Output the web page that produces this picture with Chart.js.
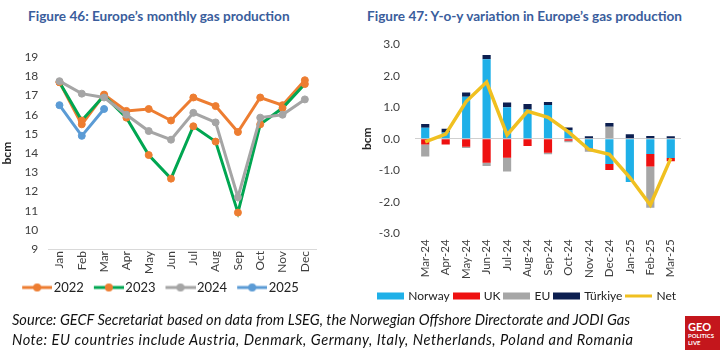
<!DOCTYPE html>
<html>
<head>
<meta charset="utf-8">
<script src="https://cdn.jsdelivr.net/npm/chart.js@4.4.1/dist/chart.umd.min.js"></script>
<style>
  body { margin: 0; background: #fff; width: 720px; height: 350px; position: relative; overflow: hidden; font-family: Lato, "Noto Sans", sans-serif; }
  .title { position: absolute; top: 8px; font-weight: bold; font-size: 13.6px; color: #3a5d9c; white-space: nowrap; }
  canvas { position: absolute; }
  .foot { position: absolute; left: 12px; font-style: italic; font-size: 14.6px; color: #111; white-space: nowrap; }
  .logo { position: absolute; left: 685px; top: 316px; width: 35px; height: 34px; background: #c4161c; color: #fff; font-weight: bold; line-height: 1; }
</style>
</head>
<body>
<div class="title" style="left:28px">Figure 46: Europe’s monthly gas production</div>
<div class="title" style="left:367px">Figure 47: Y-o-y variation in Europe’s gas production</div>
<canvas id="left" width="335" height="264" style="left:0;top:40px"></canvas>
<canvas id="right" width="335" height="290" style="left:360px;top:22px"></canvas>
<div class="foot" style="top:311px">Source: GECF Secretariat based on data from LSEG, the Norwegian Offshore Directorate and JODI Gas</div>
<div class="foot" style="top:331px;letter-spacing:0.5px">Note: EU countries include Austria, Denmark, Germany, Italy, Netherlands, Poland and Romania</div>
<div class="logo"><div style="font-size:11px;padding:5px 0 0 3px">GEO</div><div style="font-size:6px;padding:1px 0 0 3px">POLITICS</div><div style="font-size:6px;padding:1px 0 0 3px">LIVE</div></div>
<script>
// monthly production, bcm
const months = ['Jan', 'Feb', 'Mar', 'Apr', 'May', 'Jun', 'Jul', 'Aug', 'Sep', 'Oct', 'Nov', 'Dec'];
const y2022 = [17.7, 15.5, 17.05, 16.2, 16.3, 15.7, 16.9, 16.45, 15.1, 16.9, 16.5, 17.8];
const y2023 = [17.7, 15.7, 17.0, 15.85, 13.9, 12.67, 15.4, 14.6, 10.9, 15.5, 16.35, 17.6];
const y2024 = [17.75, 17.1, 16.9, 16.0, 15.15, 14.7, 16.1, 15.6, 11.7, 15.85, 16.0, 16.8];
const y2025 = [16.5, 14.9, 16.3];

// y-o-y variation, bcm
const periods = ['Mar-24', 'Apr-24', 'May-24', 'Jun-24', 'Jul-24', 'Aug-24', 'Sep-24', 'Oct-24', 'Nov-24', 'Dec-24', 'Jan-25', 'Feb-25', 'Mar-25'];
const norway = [0.35, 0.2, 1.33, 2.52, 1.0, 0.93, 1.07, 0.28, -0.3, -0.8, -1.37, -0.48, -0.61];
const uk = [-0.18, -0.18, -0.25, -0.76, -0.6, -0.23, -0.44, -0.06, -0.03, -0.19, 0, -0.4, -0.1];
const eu = [-0.38, 0, -0.04, -0.1, -0.44, 0, -0.05, -0.05, -0.08, 0.38, 0, -1.31, 0];
const turkiye = [0.12, 0.12, 0.14, 0.14, 0.15, 0.17, 0.1, 0.08, 0.08, 0.12, 0.14, 0.09, 0.08];
const net = [-0.1, 0.15, 1.18, 1.8, 0.12, 0.87, 0.68, 0.22, -0.34, -0.49, -1.23, -2.1, -0.62];

const tickColor = '#404040';
Chart.defaults.font.family = 'Lato, "Noto Sans", sans-serif';

// legend icons: canvas drawn centred on the legend box, mark pushed to the right
function lineIcon(lineColor, dotColor) {
    const c = document.createElement('canvas');
    c.width = 40; c.height = 10;
    const ctx = c.getContext('2d');
    ctx.strokeStyle = lineColor; ctx.lineWidth = 3;
    ctx.beginPath(); ctx.moveTo(10, 5); ctx.lineTo(40, 5); ctx.stroke();
    if (dotColor) {
        ctx.fillStyle = dotColor;
        ctx.beginPath(); ctx.arc(25, 5, 4, 0, Math.PI * 2); ctx.fill();
    }
    return c;
}

function boxIcon(color, h) {
    const c = document.createElement('canvas');
    c.width = 27; c.height = 8;
    const ctx = c.getContext('2d');
    ctx.fillStyle = color;
    ctx.fillRect(0, (8 - h) / 2, 27, h);
    return c;
}

function iconLabels(chart) {
    return chart.data.datasets.map((ds, i) => ({
        text: ds.label,
        pointStyle: ds.legendIcon,
        fontColor: '#222',
        lineWidth: 0,
        hidden: false,
        datasetIndex: i
    }));
}

const lineSet = (label, data, color, dot, order) => ({
    label: label,
    data: data,
    borderColor: color,
    backgroundColor: color,
    borderWidth: 3,
    pointRadius: 3.5,
    pointBackgroundColor: dot,
    pointBorderColor: dot,
    pointBorderWidth: 1,
    tension: 0,
    order: order,
    legendIcon: lineIcon(color, dot)
});

new Chart(document.getElementById('left'), {
    type: 'line',
    data: {
        labels: months,
        datasets: [
            lineSet('2022', y2022, '#ed7d31', '#ed7d31', 4),
            lineSet('2023', y2023, '#00a651', '#ed7d31', 3),
            lineSet('2024', y2024, '#a5a5a5', '#a5a5a5', 2),
            lineSet('2025', y2025, '#5b9bd5', '#5b9bd5', 1)
        ]
    },
    options: {
        responsive: false,
        animation: false,
        layout: { padding: { top: 2, right: 19, left: 0, bottom: 0 } },
        plugins: {
            tooltip: { enabled: false },
            legend: {
                position: 'bottom',
                labels: {
                    usePointStyle: true,
                    pointStyleWidth: 30,
                    boxHeight: 10,
                    padding: 5,
                    font: { size: 13 },
                    color: '#222',
                    generateLabels: iconLabels,
                    sort: (a, b) => a.datasetIndex - b.datasetIndex
                }
            }
        },
        scales: {
            x: {
                offset: true,
                grid: { display: false, drawTicks: false },
                border: { display: true, color: '#d9d9d9', width: 1 },
                ticks: { minRotation: 90, maxRotation: 90, color: tickColor, font: { size: 12 }, padding: 2 }
            },
            y: {
                min: 9, max: 19,
                grid: { display: false, drawTicks: false },
                border: { display: false },
                ticks: { stepSize: 1, autoSkip: false, color: tickColor, font: { size: 12 }, padding: 10 },
                title: { display: true, text: 'bcm', color: '#222', font: { size: 12, weight: 'bold' }, padding: 0 }
            }
        }
    }
});

const barSet = (label, data, color) => ({
    type: 'bar',
    label: label,
    data: data,
    backgroundColor: color,
    barPercentage: 0.4,
    categoryPercentage: 1,
    order: 1,
    legendIcon: boxIcon(color, 7)
});

new Chart(document.getElementById('right'), {
    data: {
        labels: periods,
        datasets: [
            barSet('Norway', norway, '#1fb0e8'),
            barSet('UK', uk, '#ee1111'),
            barSet('EU', eu, '#a6a6a6'),
            barSet('Türkiye', turkiye, '#0c1f50'),
            {
                type: 'line',
                label: 'Net',
                data: net,
                stack: 'net',
                borderColor: '#f0c020',
                backgroundColor: '#f0c020',
                borderWidth: 3.5,
                pointRadius: 0,
                tension: 0,
                order: 0,
                legendIcon: boxIcon('#f0c020', 3)
            }
        ]
    },
    options: {
        responsive: false,
        animation: false,
        layout: { padding: { top: 1, right: 14, left: 0, bottom: 0 } },
        plugins: {
            tooltip: { enabled: false },
            legend: {
                position: 'bottom',
                align: 'end',
                labels: {
                    usePointStyle: true,
                    pointStyleWidth: 23,
                    boxHeight: 10,
                    padding: 5,
                    font: { size: 12 },
                    color: '#222',
                    generateLabels: iconLabels,
                    sort: (a, b) => a.datasetIndex - b.datasetIndex
                }
            }
        },
        scales: {
            x: {
                stacked: true,
                grid: { display: false, drawTicks: false },
                border: { display: false },
                ticks: { minRotation: 90, maxRotation: 90, color: tickColor, font: { size: 11.5 }, padding: 6 }
            },
            y: {
                stacked: true,
                min: -3, max: 3,
                afterFit: s => { s.width = 55; },
                grid: {
                    drawTicks: false,
                    color: ctx => ctx.tick && ctx.tick.value === 0 ? '#d0d0d0' : 'rgba(0,0,0,0)'
                },
                border: { display: false },
                ticks: { stepSize: 1, autoSkip: false, color: tickColor, font: { size: 12 }, padding: 15, callback: v => v.toFixed(1) },
                title: { display: true, text: 'bcm', color: '#222', font: { size: 12, weight: 'bold' }, padding: 0 }
            }
        }
    }
});
</script>
</body>
</html>
